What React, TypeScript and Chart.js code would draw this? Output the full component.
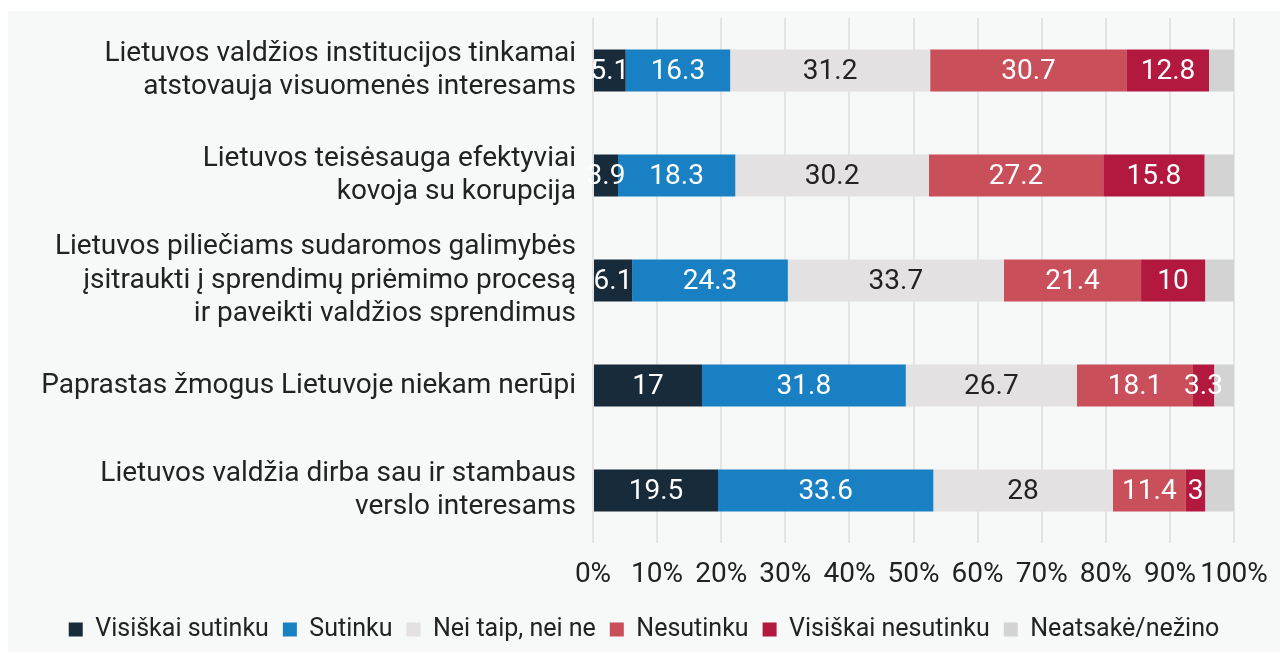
import React, { useEffect, useRef } from "react";
import { Chart, registerables } from "chart.js";

Chart.register(...registerables);

const categories: string[][] = [
  ["Lietuvos valdžios institucijos tinkamai", "atstovauja visuomenės interesams"],
  ["Lietuvos teisėsauga efektyviai", "kovoja su korupcija"],
  ["Lietuvos piliečiams sudaromos galimybės", "įsitraukti į sprendimų priėmimo procesą", "ir paveikti valdžios sprendimus"],
  ["Paprastas žmogus Lietuvoje niekam nerūpi"],
  ["Lietuvos valdžia dirba sau ir stambaus", "verslo interesams"],
];

const seriesNames = [
  "Visiškai sutinku",
  "Sutinku",
  "Nei taip, nei ne",
  "Nesutinku",
  "Visiškai nesutinku",
  "Neatsakė/nežino",
];

const visiskaiSutinku = [5.1, 3.9, 6.1, 17, 19.5];
const sutinku = [16.3, 18.3, 24.3, 31.8, 33.6];
const neiTaipNeiNe = [31.2, 30.2, 33.7, 26.7, 28];
const nesutinku = [30.7, 27.2, 21.4, 18.1, 11.4];
const visiskaiNesutinku = [12.8, 15.8, 10, 3.3, 3];
const neatsakeNezino = [3.9, 4.6, 4.5, 3.1, 4.5];

const xTicks = [0, 10, 20, 30, 40, 50, 60, 70, 80, 90, 100];

const seriesColors = ["#172b3a", "#1a80c4", "#e4e1e2", "#c94f5a", "#b3193f", "#d3d3d3"];
const labelColors = ["#ffffff", "#ffffff", "#222222", "#ffffff", "#ffffff", null];

const FONT = "Roboto, 'Noto Sans', sans-serif";

const valueLabelPlugin = {
  id: "valueLabels",
  afterDatasetsDraw(chart: any) {
    const ctx = chart.ctx;
    ctx.save();
    ctx.font = `28px ${FONT}`;
    ctx.textAlign = "center";
    ctx.textBaseline = "middle";
    chart.data.datasets.forEach((ds: any, di: number) => {
      const color = labelColors[di];
      if (!color) return;
      const meta = chart.getDatasetMeta(di);
      meta.data.forEach((bar: any, i: number) => {
        const v = ds.data[i];
        const cx = (bar.x + bar.base) / 2;
        ctx.fillStyle = color;
        ctx.fillText(String(v), cx, bar.y + 1);
      });
    });
    ctx.restore();
  },
};

export default function App() {
  const canvasRef = useRef<HTMLCanvasElement | null>(null);

  useEffect(() => {
    if (!canvasRef.current) return;
    const allData = [visiskaiSutinku, sutinku, neiTaipNeiNe, nesutinku, visiskaiNesutinku, neatsakeNezino];
    const chart = new Chart(canvasRef.current, {
      type: "bar",
      data: {
        labels: categories,
        datasets: allData.map((d, i) => ({
          label: seriesNames[i],
          data: d,
          backgroundColor: seriesColors[i],
          borderWidth: 0,
          barPercentage: 0.8,
          categoryPercentage: 0.5,
        })),
      },
      options: {
        indexAxis: "y",
        animation: false,
        responsive: true,
        maintainAspectRatio: false,
        layout: { padding: { top: 7, right: 0, left: 0, bottom: 0 } },
        plugins: {
          tooltip: { enabled: false },
          legend: {
            position: "bottom",
            labels: {
              font: { family: FONT, size: 25 },
              color: "#222222",
              boxWidth: 14,
              boxHeight: 14,
              padding: 14,
            },
          },
        },
        scales: {
          x: {
            stacked: true,
            min: 0,
            max: 100,
            afterBuildTicks: (scale: any) => {
              scale.ticks = xTicks.map((v) => ({ value: v }));
            },
            afterFit: (scale: any) => {
              scale.height = 60;
              scale.paddingLeft = 0;
              scale.paddingRight = 46;
            },
            ticks: {
              callback: (v: any) => `${v}%`,
              font: { family: FONT, size: 28 },
              color: "#222222",
              padding: 15,
              maxRotation: 0,
              autoSkip: false,
            },
            grid: { color: "#e4e4e4", lineWidth: 2, drawTicks: false },
            border: { display: false },
          },
          y: {
            stacked: true,
            afterFit: (scale: any) => {
              scale.width = 585;
              scale.paddingTop = 0;
              scale.paddingBottom = 0;
            },
            ticks: {
              font: { family: FONT, size: 28, lineHeight: 1.2 },
              color: "#222222",
              padding: 17,
              autoSkip: false,
            },
            grid: { display: false, drawTicks: false },
            border: { display: false },
          },
        },
      },
      plugins: [valueLabelPlugin],
    });
    return () => chart.destroy();
  }, []);

  return (
    <div
      style={{
        position: "fixed",
        left: 8,
        top: 11,
        width: 1272,
        height: 641,
        background: "#f7f8f8",
      }}
    >
      <canvas ref={canvasRef} />
    </div>
  );
}
